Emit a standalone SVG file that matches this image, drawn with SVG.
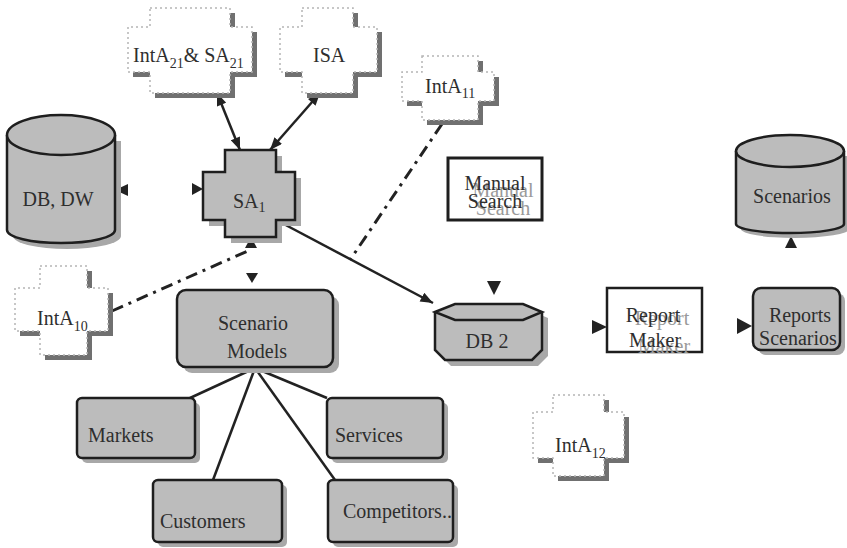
<svg xmlns="http://www.w3.org/2000/svg" width="847" height="548" viewBox="0 0 847 548">
<style>
.box{fill:#bcbcbc;stroke:#1e1e1e;stroke-width:2.5}
.sh{fill:#a8a8a8}
.ish{fill:#707070}
.iface{fill:#fff;stroke:#b5b5b5;stroke-width:1.5;stroke-dasharray:2 3}
.wbox{fill:#fff;stroke:#1e1e1e}
.g{fill:#9a9a9a}
.m{text-anchor:middle}
.ln{stroke:#222;stroke-width:2.5;fill:none}
.dd{stroke-width:3;stroke-dasharray:12 6 3 6}
.tri{fill:#222}
</style>
<defs>
<marker id="ah" viewBox="0 0 10 8" refX="10" refY="4" markerWidth="13" markerHeight="10" markerUnits="userSpaceOnUse" orient="auto-start-reverse">
<path d="M0,0 L10,4 L0,8 z" fill="#222"/>
</marker>
</defs>
<rect width="847" height="548" fill="#fff"/>

<g id="connectors">
<line class="ln" x1="217" y1="93" x2="240" y2="150" marker-start="url(#ah)" marker-end="url(#ah)"/>
<line class="ln" x1="320" y1="93" x2="270" y2="150" marker-start="url(#ah)" marker-end="url(#ah)"/>
<line class="ln" x1="280" y1="222" x2="433" y2="303" marker-end="url(#ah)"/>
<line class="ln dd" x1="442" y1="124" x2="350" y2="260"/>
<line class="ln dd" x1="112" y1="311" x2="250" y2="250"/>
<line class="ln" x1="255" y1="368" x2="190" y2="398"/>
<line class="ln" x1="255" y1="368" x2="213" y2="480"/>
<line class="ln" x1="255" y1="368" x2="335" y2="480"/>
<line class="ln" x1="255" y1="368" x2="327" y2="398"/>
<polygon class="tri" points="115,190 128,184 128,196"/>
<polygon class="tri" points="203,189 192,183 192,195"/>
<polygon class="tri" points="251,237 245,248 257,248"/>
<polygon class="tri" points="252,283 246,273 258,273"/>
<polygon class="tri" points="494,295 487,281 501,281"/>
<polygon class="tri" points="607,327 592,320 592,334"/>
<polygon class="tri" points="752,326 737,318 737,334"/>
<polygon class="tri" points="791,236 785,248 797,248"/>
</g>

<g id="intA21_SA21">
<path class="ish" transform="translate(5,5)" d="M150,8 H230 V27 H252 V72 H230 V93 H150 V72 H128 V27 H150 Z"/>
<path class="iface" d="M150,8 H230 V27 H252 V72 H230 V93 H150 V72 H128 V27 H150 Z"/>
<text x="133" y="62" font-family="Liberation Serif, serif" font-size="20" fill="#2e2e2e">IntA<tspan dy="6" font-size="14">21</tspan><tspan dy="-6">&amp; SA</tspan><tspan dy="6" font-size="14">21</tspan></text>
</g>

<g id="ISA">
<path class="ish" transform="translate(5,5)" d="M302,8 H353 V27 H377 V72 H353 V93 H302 V72 H280 V27 H302 Z"/>
<path class="iface" d="M302,8 H353 V27 H377 V72 H353 V93 H302 V72 H280 V27 H302 Z"/>
<text x="313" y="62" font-family="Liberation Serif, serif" font-size="20" fill="#2e2e2e">ISA</text>
</g>

<g id="intA11">
<path class="ish" transform="translate(5,5)" d="M422,56 H478 V72 H494 V101 H478 V120 H422 V101 H402 V72 H422 Z"/>
<path class="iface" d="M422,56 H478 V72 H494 V101 H478 V120 H422 V101 H402 V72 H422 Z"/>
<text x="425" y="93" font-family="Liberation Serif, serif" font-size="20" fill="#2e2e2e">IntA<tspan dy="5" font-size="14">11</tspan></text>
</g>

<g id="intA10">
<path class="ish" transform="translate(5,5)" d="M40,266 H87 V288 H108 V331 H87 V355 H40 V331 H15 V288 H40 Z"/>
<path class="iface" d="M40,266 H87 V288 H108 V331 H87 V355 H40 V331 H15 V288 H40 Z"/>
<text x="37" y="325" font-family="Liberation Serif, serif" font-size="20" fill="#2e2e2e">IntA<tspan dy="6" font-size="14">10</tspan></text>
</g>

<g id="intA12">
<path class="ish" transform="translate(5,5)" d="M553,395 H604 V412 H624 V458 H604 V476 H553 V458 H533 V412 H553 Z"/>
<path class="iface" d="M553,395 H604 V412 H624 V458 H604 V476 H553 V458 H533 V412 H553 Z"/>
<text x="555" y="452" font-family="Liberation Serif, serif" font-size="20" fill="#2e2e2e">IntA<tspan dy="6" font-size="14">12</tspan></text>
</g>

<g id="db_dw">
<path class="sh" transform="translate(6,6)" d="M7,135 V230 A54,13 0 0 0 115,230 V135 Z"/>
<path class="box" d="M7,135 V230 A54,13 0 0 0 115,230 V135"/>
<ellipse class="box" cx="61" cy="135" rx="54" ry="20"/>
<text class="m" x="58" y="206" font-family="Liberation Serif, serif" font-size="20" fill="#2e2e2e">DB, DW</text>
</g>

<g id="SA1">
<path class="sh" transform="translate(6,6)" d="M225,150 H276 V172 H295 V220 H276 V237 H225 V220 H203 V172 H225 Z"/>
<path class="box" d="M225,150 H276 V172 H295 V220 H276 V237 H225 V220 H203 V172 H225 Z"/>
<text x="233" y="208" font-family="Liberation Serif, serif" font-size="20" fill="#2e2e2e">SA<tspan dy="4" font-size="14">1</tspan></text>
</g>

<g id="manual_search">
<rect class="wbox" x="448" y="158" width="94" height="62" stroke-width="3"/>
<text class="m" x="503" y="197" font-family="Liberation Serif, serif" font-size="20" fill="#9a9a9a">Manual</text>
<text class="m" x="503" y="215" font-family="Liberation Serif, serif" font-size="20" fill="#9a9a9a">Search</text>
<text class="m" x="495" y="190" font-family="Liberation Serif, serif" font-size="20" fill="#2e2e2e">Manual</text>
<text class="m" x="495" y="208" font-family="Liberation Serif, serif" font-size="20" fill="#2e2e2e">Search</text>
</g>

<g id="scenarios_db">
<path class="sh" transform="translate(5,5)" d="M736,151 V224 A54,9 0 0 0 844,224 V151 Z"/>
<path class="box" d="M736,151 V224 A54,9 0 0 0 844,224 V151"/>
<ellipse class="box" cx="790" cy="151" rx="54" ry="16"/>
<text class="m" x="792" y="203" font-family="Liberation Serif, serif" font-size="20" fill="#2e2e2e">Scenarios</text>
</g>

<g id="scenario_models">
<rect class="sh" x="183" y="296" width="156" height="77" rx="9"/>
<rect class="box" x="177" y="290" width="156" height="77" rx="9"/>
<text class="m" x="253" y="330" font-family="Liberation Serif, serif" font-size="20" fill="#2e2e2e">Scenario</text>
<text class="m" x="257" y="358" font-family="Liberation Serif, serif" font-size="20" fill="#2e2e2e">Models</text>
</g>

<g id="db2">
<path class="sh" transform="translate(6,6)" d="M435,312 L455,304 H523 L542,312 V350 L532,360 H445 L435,350 Z"/>
<path class="box" d="M435,312 V350 L445,360 H532 L542,350 V312"/>
<path class="box" d="M435,312 L455,304 H523 L542,312 L523,320 H455 Z"/>
<text class="m" x="487" y="348" font-family="Liberation Serif, serif" font-size="20" fill="#2e2e2e">DB 2</text>
</g>

<g id="report_maker">
<rect class="wbox" x="607" y="288" width="95" height="64" stroke-width="2.5"/>
<text class="m" x="662" y="325" font-family="Liberation Serif, serif" font-size="20" fill="#9a9a9a">Report</text>
<text class="m" x="664" y="353" font-family="Liberation Serif, serif" font-size="20" fill="#9a9a9a">Maker</text>
<text class="m" x="653" y="322" font-family="Liberation Serif, serif" font-size="20" fill="#2e2e2e">Report</text>
<text class="m" x="655" y="347" font-family="Liberation Serif, serif" font-size="20" fill="#2e2e2e">Maker</text>
</g>

<g id="reports_scenarios">
<rect class="sh" x="758" y="293" width="87" height="62" rx="8"/>
<rect class="box" x="753" y="288" width="87" height="62" rx="8"/>
<text class="m" x="800" y="322" font-family="Liberation Serif, serif" font-size="20" fill="#2e2e2e">Reports</text>
<text class="m" x="798" y="345" font-family="Liberation Serif, serif" font-size="20" fill="#2e2e2e">Scenarios</text>
</g>

<g id="markets">
<rect class="sh" x="82" y="403" width="118" height="60" rx="5"/>
<rect class="box" x="77" y="398" width="118" height="60" rx="5"/>
<text x="88" y="442" font-family="Liberation Serif, serif" font-size="20" fill="#2e2e2e">Markets</text>
</g>

<g id="services">
<rect class="sh" x="332" y="403" width="116" height="60" rx="5"/>
<rect class="box" x="327" y="398" width="116" height="60" rx="5"/>
<text x="335" y="442" font-family="Liberation Serif, serif" font-size="20" fill="#2e2e2e">Services</text>
</g>

<g id="customers">
<rect class="sh" x="158" y="485" width="129" height="62" rx="5"/>
<rect class="box" x="153" y="480" width="129" height="62" rx="5"/>
<text x="160" y="528" font-family="Liberation Serif, serif" font-size="20" fill="#2e2e2e">Customers</text>
</g>

<g id="competitors">
<rect class="sh" x="333" y="485" width="125" height="62" rx="5"/>
<rect class="box" x="328" y="480" width="125" height="62" rx="5"/>
<text x="343" y="518" font-family="Liberation Serif, serif" font-size="20" fill="#2e2e2e">Competitors..</text>
</g>
</svg>
